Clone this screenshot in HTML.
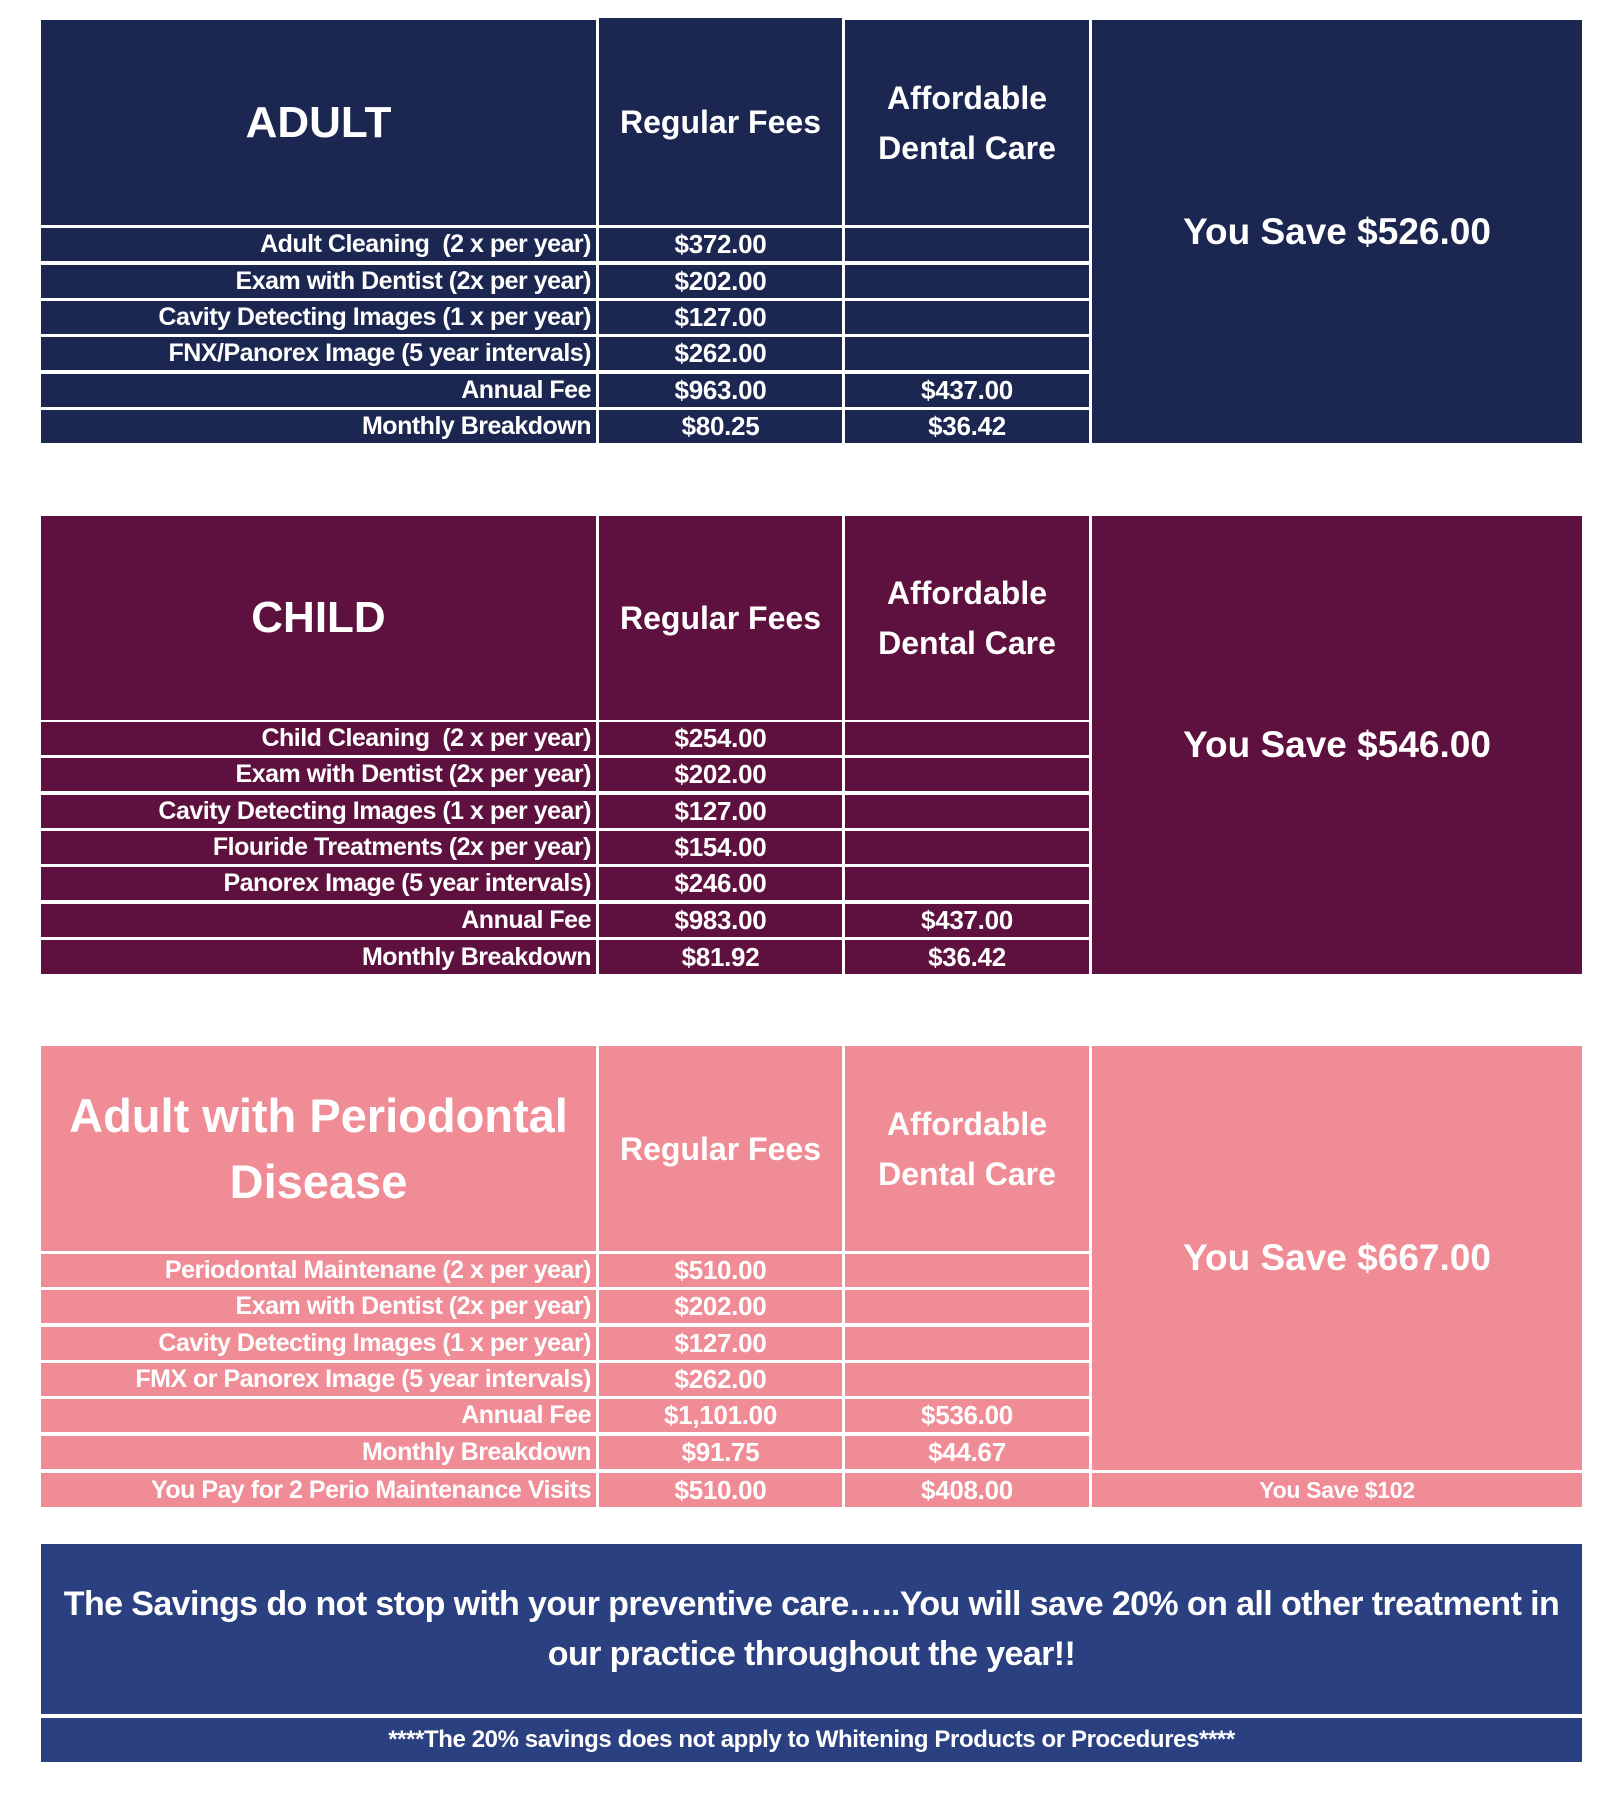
<!DOCTYPE html>
<html><head><meta charset="utf-8">
<style>
body{margin:0;width:1623px;height:1800px;background:#fff;position:relative;overflow:hidden;font-family:"Liberation Sans",sans-serif;font-weight:bold;color:#fff}
.c{position:absolute;display:flex;align-items:center;justify-content:center;text-align:center;box-sizing:border-box;white-space:nowrap}
.r{justify-content:flex-end;padding-right:5px;text-align:right}
.n{background:#1b2651}.m{background:#5e103e}.p{background:#f08c96}.b{background:#2b4081}
.lb{font-size:25px;letter-spacing:-0.5px}
.v{font-size:26px;letter-spacing:-0.3px}
.hd{font-size:32px;line-height:50px}
.big{font-size:44px;line-height:66px}
.sv{font-size:37px}
</style></head><body>
<!-- ADULT -->
<div class="c n big" style="left:41px;top:20px;width:555px;height:205px">ADULT</div>
<div class="c n hd" style="left:599px;top:18px;width:243px;height:207px">Regular Fees</div>
<div class="c n hd" style="left:845px;top:20px;width:244px;height:205px">Affordable<br>Dental Care</div>
<div class="c n sv" style="left:1092px;top:20px;width:490px;height:423px">You Save $526.00</div>
<div class="c n r lb" style="left:41px;top:228px;width:555px;height:33px">Adult Cleaning&nbsp; (2 x per year)</div>
<div class="c n v" style="left:599px;top:228px;width:243px;height:33px">$372.00</div>
<div class="c n v" style="left:845px;top:228px;width:244px;height:33px"></div>
<div class="c n r lb" style="left:41px;top:265px;width:555px;height:33px">Exam with Dentist (2x per year)</div>
<div class="c n v" style="left:599px;top:265px;width:243px;height:33px">$202.00</div>
<div class="c n v" style="left:845px;top:265px;width:244px;height:33px"></div>
<div class="c n r lb" style="left:41px;top:301px;width:555px;height:33px">Cavity Detecting Images (1 x per year)</div>
<div class="c n v" style="left:599px;top:301px;width:243px;height:33px">$127.00</div>
<div class="c n v" style="left:845px;top:301px;width:244px;height:33px"></div>
<div class="c n r lb" style="left:41px;top:337px;width:555px;height:33px">FNX/Panorex Image (5 year intervals)</div>
<div class="c n v" style="left:599px;top:337px;width:243px;height:33px">$262.00</div>
<div class="c n v" style="left:845px;top:337px;width:244px;height:33px"></div>
<div class="c n r lb" style="left:41px;top:374px;width:555px;height:33px">Annual Fee</div>
<div class="c n v" style="left:599px;top:374px;width:243px;height:33px">$963.00</div>
<div class="c n v" style="left:845px;top:374px;width:244px;height:33px">$437.00</div>
<div class="c n r lb" style="left:41px;top:410px;width:555px;height:33px">Monthly Breakdown</div>
<div class="c n v" style="left:599px;top:410px;width:243px;height:33px">$80.25</div>
<div class="c n v" style="left:845px;top:410px;width:244px;height:33px">$36.42</div>

<!-- CHILD -->
<div class="c m big" style="left:41px;top:516px;width:555px;height:204px">CHILD</div>
<div class="c m hd" style="left:599px;top:516px;width:243px;height:204px">Regular Fees</div>
<div class="c m hd" style="left:845px;top:516px;width:244px;height:204px">Affordable<br>Dental Care</div>
<div class="c m sv" style="left:1092px;top:516px;width:490px;height:458px">You Save $546.00</div>
<div class="c m r lb" style="left:41px;top:722px;width:555px;height:33px">Child Cleaning&nbsp; (2 x per year)</div>
<div class="c m v" style="left:599px;top:722px;width:243px;height:33px">$254.00</div>
<div class="c m v" style="left:845px;top:722px;width:244px;height:33px"></div>
<div class="c m r lb" style="left:41px;top:758px;width:555px;height:33px">Exam with Dentist (2x per year)</div>
<div class="c m v" style="left:599px;top:758px;width:243px;height:33px">$202.00</div>
<div class="c m v" style="left:845px;top:758px;width:244px;height:33px"></div>
<div class="c m r lb" style="left:41px;top:795px;width:555px;height:33px">Cavity Detecting Images (1 x per year)</div>
<div class="c m v" style="left:599px;top:795px;width:243px;height:33px">$127.00</div>
<div class="c m v" style="left:845px;top:795px;width:244px;height:33px"></div>
<div class="c m r lb" style="left:41px;top:831px;width:555px;height:33px">Flouride Treatments (2x per year)</div>
<div class="c m v" style="left:599px;top:831px;width:243px;height:33px">$154.00</div>
<div class="c m v" style="left:845px;top:831px;width:244px;height:33px"></div>
<div class="c m r lb" style="left:41px;top:867px;width:555px;height:33px">Panorex Image (5 year intervals)</div>
<div class="c m v" style="left:599px;top:867px;width:243px;height:33px">$246.00</div>
<div class="c m v" style="left:845px;top:867px;width:244px;height:33px"></div>
<div class="c m r lb" style="left:41px;top:904px;width:555px;height:33px">Annual Fee</div>
<div class="c m v" style="left:599px;top:904px;width:243px;height:33px">$983.00</div>
<div class="c m v" style="left:845px;top:904px;width:244px;height:33px">$437.00</div>
<div class="c m r lb" style="left:41px;top:940px;width:555px;height:34px">Monthly Breakdown</div>
<div class="c m v" style="left:599px;top:940px;width:243px;height:34px">$81.92</div>
<div class="c m v" style="left:845px;top:940px;width:244px;height:34px">$36.42</div>

<!-- PERIO -->
<div class="c p big" style="left:41px;top:1046px;width:555px;height:205px;font-size:47px">Adult with Periodontal<br>Disease</div>
<div class="c p hd" style="left:599px;top:1046px;width:243px;height:205px">Regular Fees</div>
<div class="c p hd" style="left:845px;top:1046px;width:244px;height:205px">Affordable<br>Dental Care</div>
<div class="c p sv" style="left:1092px;top:1046px;width:490px;height:424px">You Save $667.00</div>
<div class="c p r lb" style="left:41px;top:1254px;width:555px;height:33px">Periodontal Maintenane (2 x per year)</div>
<div class="c p v" style="left:599px;top:1254px;width:243px;height:33px">$510.00</div>
<div class="c p v" style="left:845px;top:1254px;width:244px;height:33px"></div>
<div class="c p r lb" style="left:41px;top:1290px;width:555px;height:33px">Exam with Dentist (2x per year)</div>
<div class="c p v" style="left:599px;top:1290px;width:243px;height:33px">$202.00</div>
<div class="c p v" style="left:845px;top:1290px;width:244px;height:33px"></div>
<div class="c p r lb" style="left:41px;top:1327px;width:555px;height:33px">Cavity Detecting Images (1 x per year)</div>
<div class="c p v" style="left:599px;top:1327px;width:243px;height:33px">$127.00</div>
<div class="c p v" style="left:845px;top:1327px;width:244px;height:33px"></div>
<div class="c p r lb" style="left:41px;top:1363px;width:555px;height:33px">FMX or Panorex Image (5 year intervals)</div>
<div class="c p v" style="left:599px;top:1363px;width:243px;height:33px">$262.00</div>
<div class="c p v" style="left:845px;top:1363px;width:244px;height:33px"></div>
<div class="c p r lb" style="left:41px;top:1399px;width:555px;height:33px">Annual Fee</div>
<div class="c p v" style="left:599px;top:1399px;width:243px;height:33px">$1,101.00</div>
<div class="c p v" style="left:845px;top:1399px;width:244px;height:33px">$536.00</div>
<div class="c p r lb" style="left:41px;top:1436px;width:555px;height:33px">Monthly Breakdown</div>
<div class="c p v" style="left:599px;top:1436px;width:243px;height:33px">$91.75</div>
<div class="c p v" style="left:845px;top:1436px;width:244px;height:33px">$44.67</div>
<div class="c p r lb" style="left:41px;top:1473px;width:555px;height:34px">You Pay for 2 Perio Maintenance Visits</div>
<div class="c p v" style="left:599px;top:1473px;width:243px;height:34px">$510.00</div>
<div class="c p v" style="left:845px;top:1473px;width:244px;height:34px">$408.00</div>
<div class="c p v" style="left:1092px;top:1473px;width:490px;height:34px;font-size:23px">You Save $102</div>

<!-- Footer -->
<div class="c b" style="left:41px;top:1544px;width:1541px;height:170px;font-size:34px;line-height:50px;letter-spacing:-0.6px">The Savings do not stop with your preventive care…..You will save 20% on all other treatment in<br>our practice throughout the year!!</div>
<div class="c b" style="left:41px;top:1718px;width:1541px;height:44px;font-size:24px;letter-spacing:-0.4px">****The 20% savings does not apply to Whitening Products or Procedures****</div>
</body></html>
